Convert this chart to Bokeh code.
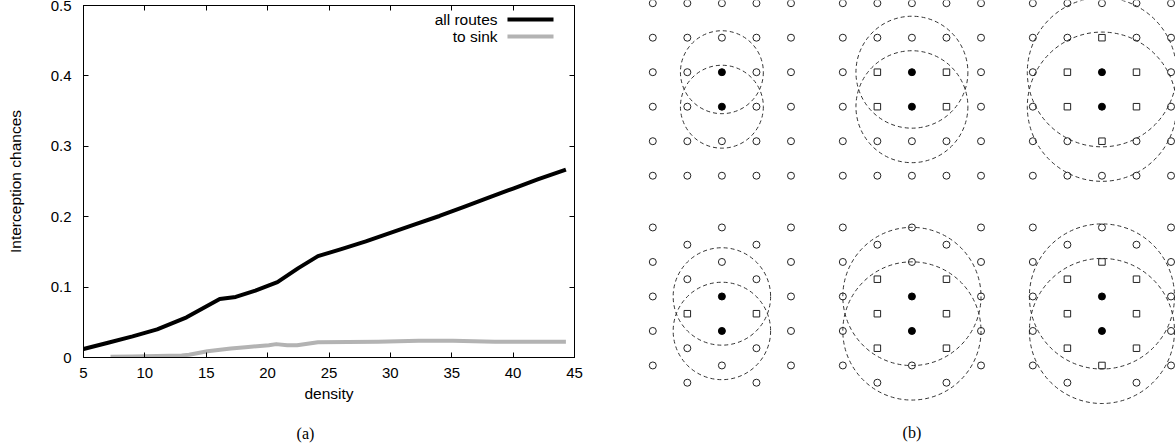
from bokeh.plotting import figure
from bokeh.models import Range1d, LinearAxis, FixedTicker, Label
from bokeh.layouts import row, column
from bokeh.embed import file_html
from bokeh.resources import INLINE

# ---------------- Panel (a) data ----------------
density_all = [5, 7, 9, 11, 13.4, 16.1, 17.4, 19, 20.8, 22.5, 24.1, 26, 28, 30, 32, 34, 36, 38, 40, 42, 44.3]
chance_all = [0.012, 0.021, 0.030, 0.040, 0.057, 0.083, 0.086, 0.095, 0.107, 0.127, 0.144,
              0.154, 0.165, 0.177, 0.189, 0.201, 0.214, 0.227, 0.240, 0.253, 0.267]
density_sink = [7.2, 9, 11, 13, 13.6, 15.1, 17, 18.2, 20.1, 20.7, 21.6, 22.4, 24.1, 29, 32.3, 35.1, 38.5, 44.3]
chance_sink = [0.001, 0.0015, 0.002, 0.003, 0.004, 0.009, 0.0128, 0.0147, 0.0175, 0.019, 0.0175,
               0.0175, 0.0218, 0.0222, 0.0237, 0.0237, 0.0222, 0.0222]
x_ticks = [5, 10, 15, 20, 25, 30, 35, 40, 45]
y_ticks = [0, 0.1, 0.2, 0.3, 0.4, 0.5]
y_tick_labels = ["0", "0.1", "0.2", "0.3", "0.4", "0.5"]
series_names = ["all routes", "to sink"]
series_colors = ["#000000", "#b3b3b3"]

# ---------------- Panel (b) data (lattice units) ----------------
group_shift = [0.0, 5.5, 11.0]
top_cols = [0, 1, 2, 3, 4]
top_rows = [0, 1, 2, 3, 4, 5]
top_sources = [(2, 2), (2, 3)]
top_squares = [[],
               [(1, 2), (3, 2), (1, 3), (3, 3)],
               [(1, 2), (3, 2), (1, 3), (3, 3), (2, 1), (2, 4)]]
top_radius = [1.2, 1.62, 2.16]

bottom_row0 = 6.5
bottom_half_rows = [0, 1, 2, 3, 4, 5, 6, 7, 8, 9]
bottom_even_cols = [0, 2, 4]
bottom_odd_cols = [1, 3]
bottom_sources = [(2, 4), (2, 6)]
bottom_squares = [[(1, 5), (3, 5)],
                  [(1, 3), (3, 3), (1, 5), (3, 5), (1, 7), (3, 7)],
                  [(1, 3), (3, 3), (1, 5), (3, 5), (1, 7), (3, 7), (2, 2), (2, 8)]]
bottom_radius = [1.41, 2.0, 2.1]

SANS = "Liberation Sans"
SERIF = "Liberation Serif"
TICK_SIZE = "15px"
LABEL_SIZE = "15.5px"

# ---------------- Panel (a) ----------------
p1 = figure(width=608, height=420, x_range=Range1d(5, 45), y_range=Range1d(0, 0.5),
            output_backend="svg", toolbar_location=None,
            min_border_left=83, min_border_right=34, min_border_top=5, min_border_bottom=63)
p1.frame_align = False
p1.grid.visible = False
p1.outline_line_color = "black"
p1.outline_line_width = 1
p1.background_fill_color = "white"
p1.border_fill_color = "white"

for ax in (p1.xaxis[0], p1.yaxis[0]):
    ax.major_tick_in = 5
    ax.major_tick_out = 0
    ax.minor_tick_line_color = None
    ax.axis_line_color = "black"
    ax.major_tick_line_color = "black"
    ax.major_label_text_font = SANS
    ax.major_label_text_font_size = TICK_SIZE
    ax.major_label_text_color = "black"
    ax.axis_label_text_font = SANS
    ax.axis_label_text_font_size = LABEL_SIZE
    ax.axis_label_text_font_style = "normal"
    ax.axis_label_text_color = "black"

p1.xaxis[0].ticker = FixedTicker(ticks=x_ticks)
p1.xaxis[0].major_label_standoff = 10
p1.xaxis[0].axis_label = "density"
p1.xaxis[0].axis_label_standoff = 4
p1.yaxis[0].ticker = FixedTicker(ticks=y_ticks)
p1.yaxis[0].major_label_overrides = {t: s for t, s in zip(y_ticks, y_tick_labels)}
p1.yaxis[0].major_label_standoff = 12
p1.yaxis[0].axis_label = "Interception chances"
p1.yaxis[0].axis_label_standoff = 24

# mirrored ticks (no labels)
top_ax = LinearAxis(ticker=FixedTicker(ticks=x_ticks), major_tick_in=5, major_tick_out=0,
                    minor_tick_line_color=None, major_label_text_font_size="0px",
                    major_label_text_color=None, major_label_standoff=0, axis_line_color="black")
right_ax = LinearAxis(ticker=FixedTicker(ticks=y_ticks), major_tick_in=5, major_tick_out=0,
                      minor_tick_line_color=None, major_label_text_font_size="0px",
                      major_label_text_color=None, major_label_standoff=0, axis_line_color="black")
p1.add_layout(top_ax, "above")
p1.add_layout(right_ax, "right")

p1.line(density_all, chance_all, line_color=series_colors[0], line_width=4, line_join="round")
p1.line(density_sink, chance_sink, line_color=series_colors[1], line_width=4, line_join="round")

# legend (label left of key line, as in the original)
legend_text_x = 38.73
legend_line_x = [39.54, 43.29]
legend_y = [0.480, 0.456]
for name, color, ly in zip(series_names, series_colors, legend_y):
    p1.add_layout(Label(x=legend_text_x, y=ly, text=name, text_align="right",
                        text_baseline="middle", text_font=SANS, text_font_size=LABEL_SIZE,
                        text_color="black"))
    p1.line(legend_line_x, [ly, ly], line_color=color, line_width=4)

# caption strip under panel (a)
cap_a = figure(width=608, height=28, output_backend="svg", toolbar_location=None,
               x_axis_location=None, y_axis_location=None,
               min_border_left=0, min_border_right=0, min_border_top=0, min_border_bottom=0)
cap_a.frame_align = False
cap_a.grid.visible = False
cap_a.outline_line_color = None
cap_a.border_fill_color = "white"
cap_a.add_layout(Label(x=305, y=15, x_units="screen", y_units="screen", text="(a)",
                       text_align="center", text_baseline="middle",
                       text_font=SERIF, text_font_size="16px", text_color="black"))

# ---------------- Panel (b) ----------------
p2 = figure(width=567, height=448, x_range=Range1d(-1.282, 15.129), y_range=Range1d(12.907, -0.0783),
            output_backend="svg", toolbar_location=None,
            x_axis_location=None, y_axis_location=None,
            min_border_left=0, min_border_right=0, min_border_top=0, min_border_bottom=0)
p2.frame_align = False
p2.grid.visible = False
p2.outline_line_color = None
p2.background_fill_color = "white"
p2.border_fill_color = "white"

open_x, open_y, sq_x, sq_y, src_x, src_y = [], [], [], [], [], []
ring_x, ring_y, ring_r = [], [], []
for g, shift in enumerate(group_shift):
    # top lattice (square grid)
    for c in top_cols:
        for r in top_rows:
            if (c, r) in top_sources:
                src_x.append(shift + c); src_y.append(r)
            elif (c, r) in top_squares[g]:
                sq_x.append(shift + c); sq_y.append(r)
            else:
                open_x.append(shift + c); open_y.append(r)
    for (c, r) in top_sources:
        ring_x.append(shift + c); ring_y.append(r); ring_r.append(top_radius[g])
    # bottom lattice (staggered grid, half-row steps)
    for h in bottom_half_rows:
        cols = bottom_even_cols if h % 2 == 0 else bottom_odd_cols
        for c in cols:
            y = bottom_row0 + h / 2
            if (c, h) in bottom_sources:
                src_x.append(shift + c); src_y.append(y)
            elif (c, h) in bottom_squares[g]:
                sq_x.append(shift + c); sq_y.append(y)
            else:
                open_x.append(shift + c); open_y.append(y)
    for (c, h) in bottom_sources:
        ring_x.append(shift + c); ring_y.append(bottom_row0 + h / 2); ring_r.append(bottom_radius[g])

p2.circle(x=ring_x, y=ring_y, radius=ring_r, fill_color=None, line_color="#333333",
          line_width=1, line_dash="4 3")
p2.scatter(open_x, open_y, marker="circle", size=7, fill_color=None, line_color="#222222", line_width=1)
p2.scatter(sq_x, sq_y, marker="square", size=6.5, fill_color=None, line_color="#222222", line_width=1)
p2.scatter(src_x, src_y, marker="circle", size=7, fill_color="black", line_color="black", line_width=1)

p2.add_layout(Label(x=7.5, y=12.443, text="(b)", text_align="center", text_baseline="middle",
                    text_font=SERIF, text_font_size="16px", text_color="black"))

layout = row(column(p1, cap_a), p2)
open("out.html", "w").write(file_html(layout, INLINE))
